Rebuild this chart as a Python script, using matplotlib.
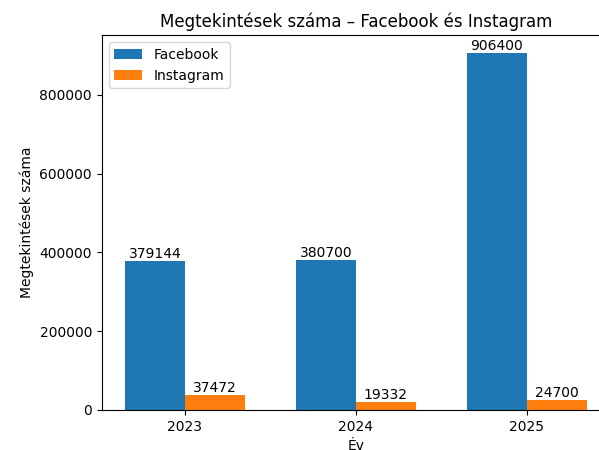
import matplotlib.pyplot as plt
import numpy as np

years = ["2023", "2024", "2025"]
facebook = [379144, 380700, 906400]
instagram = [37472, 19332, 24700]

x = np.arange(len(years))
width = 0.35

fig, ax = plt.subplots(figsize=(5.99, 4.5), dpi=100)
# the reference is cropped on the right, so the axes run past the figure edge
fig.subplots_adjust(left=0.170, right=1.018, top=0.922, bottom=0.089)

fb_bars = ax.bar(x - width / 2, facebook, width, label="Facebook")
ig_bars = ax.bar(x + width / 2, instagram, width, label="Instagram")
ax.bar_label(fb_bars)
ax.bar_label(ig_bars)

ax.set_xticks(x)
ax.set_xticklabels(years)
ax.set_xlabel("Év")
ax.set_ylabel("Megtekintések száma")
ax.set_title("Megtekintések száma – Facebook és Instagram")
ax.legend(loc="upper left")

fig.savefig("out.png")
